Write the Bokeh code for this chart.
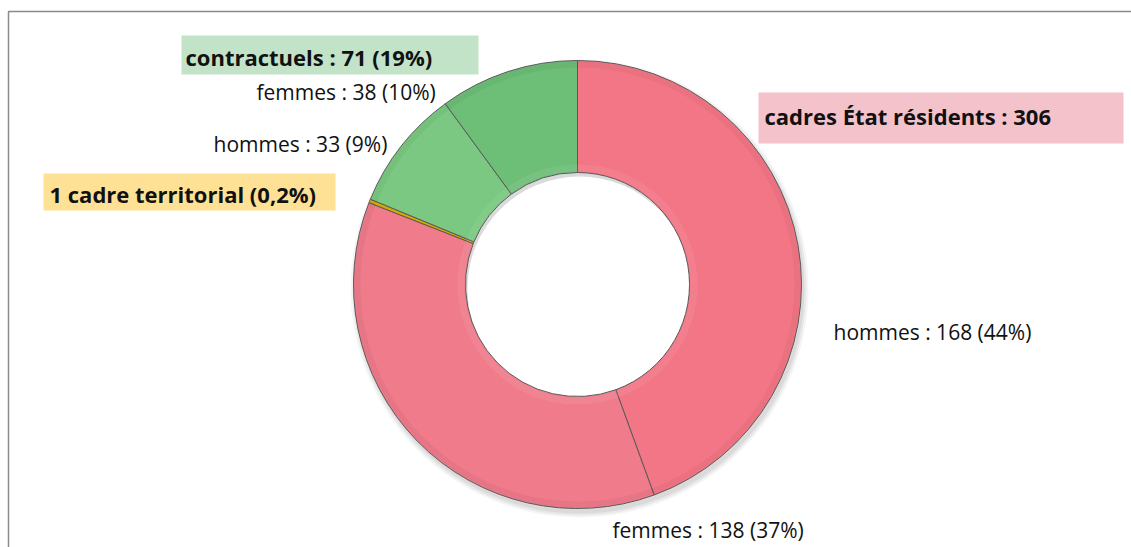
import numpy as np
from bokeh.plotting import figure
from bokeh.models import Range1d, ColumnDataSource
from bokeh.core.properties import value
from bokeh.embed import file_html
from bokeh.resources import INLINE

# ---- data ----
segments = ["hommes (cadres État)", "femmes (cadres État)", "cadre territorial",
            "hommes (contractuels)", "femmes (contractuels)"]
counts = [168, 138, 1, 33, 38]
seg_colors = ["#F37686", "#F07B8B", "#D9A800", "#7AC881", "#6DBE77"]

detail_labels = ["hommes : 168 (44%)", "femmes : 138 (37%)",
                 "hommes : 33 (9%)", "femmes : 38 (10%)"]
group_labels = ["cadres État résidents : 306", "1 cadre territorial (0,2%)",
                "contractuels : 71 (19%)"]
group_colors = ["#F4C2CB", "#FFE196", "#C3E3C8"]

# ---- layout (image pixel coords, y measured from top of window) ----
W, H = 1131, 547
def Y(img_y):
    return H - img_y

cx, cy = 577, Y(284)
r_out, r_in = 224, 112

p = figure(width=W, height=H, output_backend="svg", toolbar_location=None,
           x_range=Range1d(0, W), y_range=Range1d(0, H),
           min_border=0, background_fill_color="white")
p.axis.visible = False
p.grid.visible = False
p.outline_line_color = None

# frame (top and left edges)
p.line([8, 8, W + 5], [Y(H + 5), Y(11), Y(11)], line_color="#8a8a8a", line_width=1.5)

# soft shadow
for dr, a in [(5, 0.04), (3, 0.05), (1, 0.06)]:
    p.annulus(x=[cx + 2], y=[cy - 4], inner_radius=r_in, outer_radius=r_out + dr,
              fill_color="#000000", fill_alpha=a, line_color=None)

# donut
vals = np.array(counts, dtype=float)
frac = vals / vals.sum()
cum = np.concatenate([[0], np.cumsum(frac)])
start = np.pi / 2 - cum[:-1] * 2 * np.pi
end = np.pi / 2 - cum[1:] * 2 * np.pi
src = ColumnDataSource(dict(start=start, end=end, color=seg_colors, name=segments))
p.annular_wedge(x=cx, y=cy, inner_radius=r_in, outer_radius=r_out,
                start_angle="start", end_angle="end", direction="clock",
                fill_color="color", line_color="#5a5a5a", line_width=1, source=src)

# subtle bevel shading
p.annular_wedge(x=cx, y=cy, inner_radius=r_in + 1, outer_radius=r_in + 8,
                start_angle="start", end_angle="end", direction="clock",
                fill_color="white", fill_alpha=0.07, line_color=None, source=src)
p.annular_wedge(x=cx, y=cy, inner_radius=r_out - 7, outer_radius=r_out - 1,
                start_angle="start", end_angle="end", direction="clock",
                fill_color="black", fill_alpha=0.04, line_color=None, source=src)

# group label boxes
box_left = [758, 43, 181]
box_right = [1123, 335, 478]
box_top = [92, 173, 35]
box_bottom = [143, 210, 74]
p.quad(left=box_left, right=box_right, top=[Y(v) for v in box_top],
       bottom=[Y(v) for v in box_bottom], fill_color=group_colors, line_color=None)

gx = [764, 49, 185]
gy = [Y(115), Y(193), Y(56)]
p.text(x=gx, y=gy, text=group_labels, text_font=value("Open Sans"),
       text_font_size="22px", text_font_style="bold", text_color="#111111",
       text_baseline="middle", text_align="left")

dx = [833, 612, 213, 256]
dy = [Y(331), Y(529), Y(143), Y(91)]
p.text(x=dx, y=dy, text=detail_labels, text_font=value("Open Sans"),
       text_font_size="21px", text_color="#111111",
       text_baseline="middle", text_align="left")

open("out.html", "w").write(file_html(p, INLINE))
